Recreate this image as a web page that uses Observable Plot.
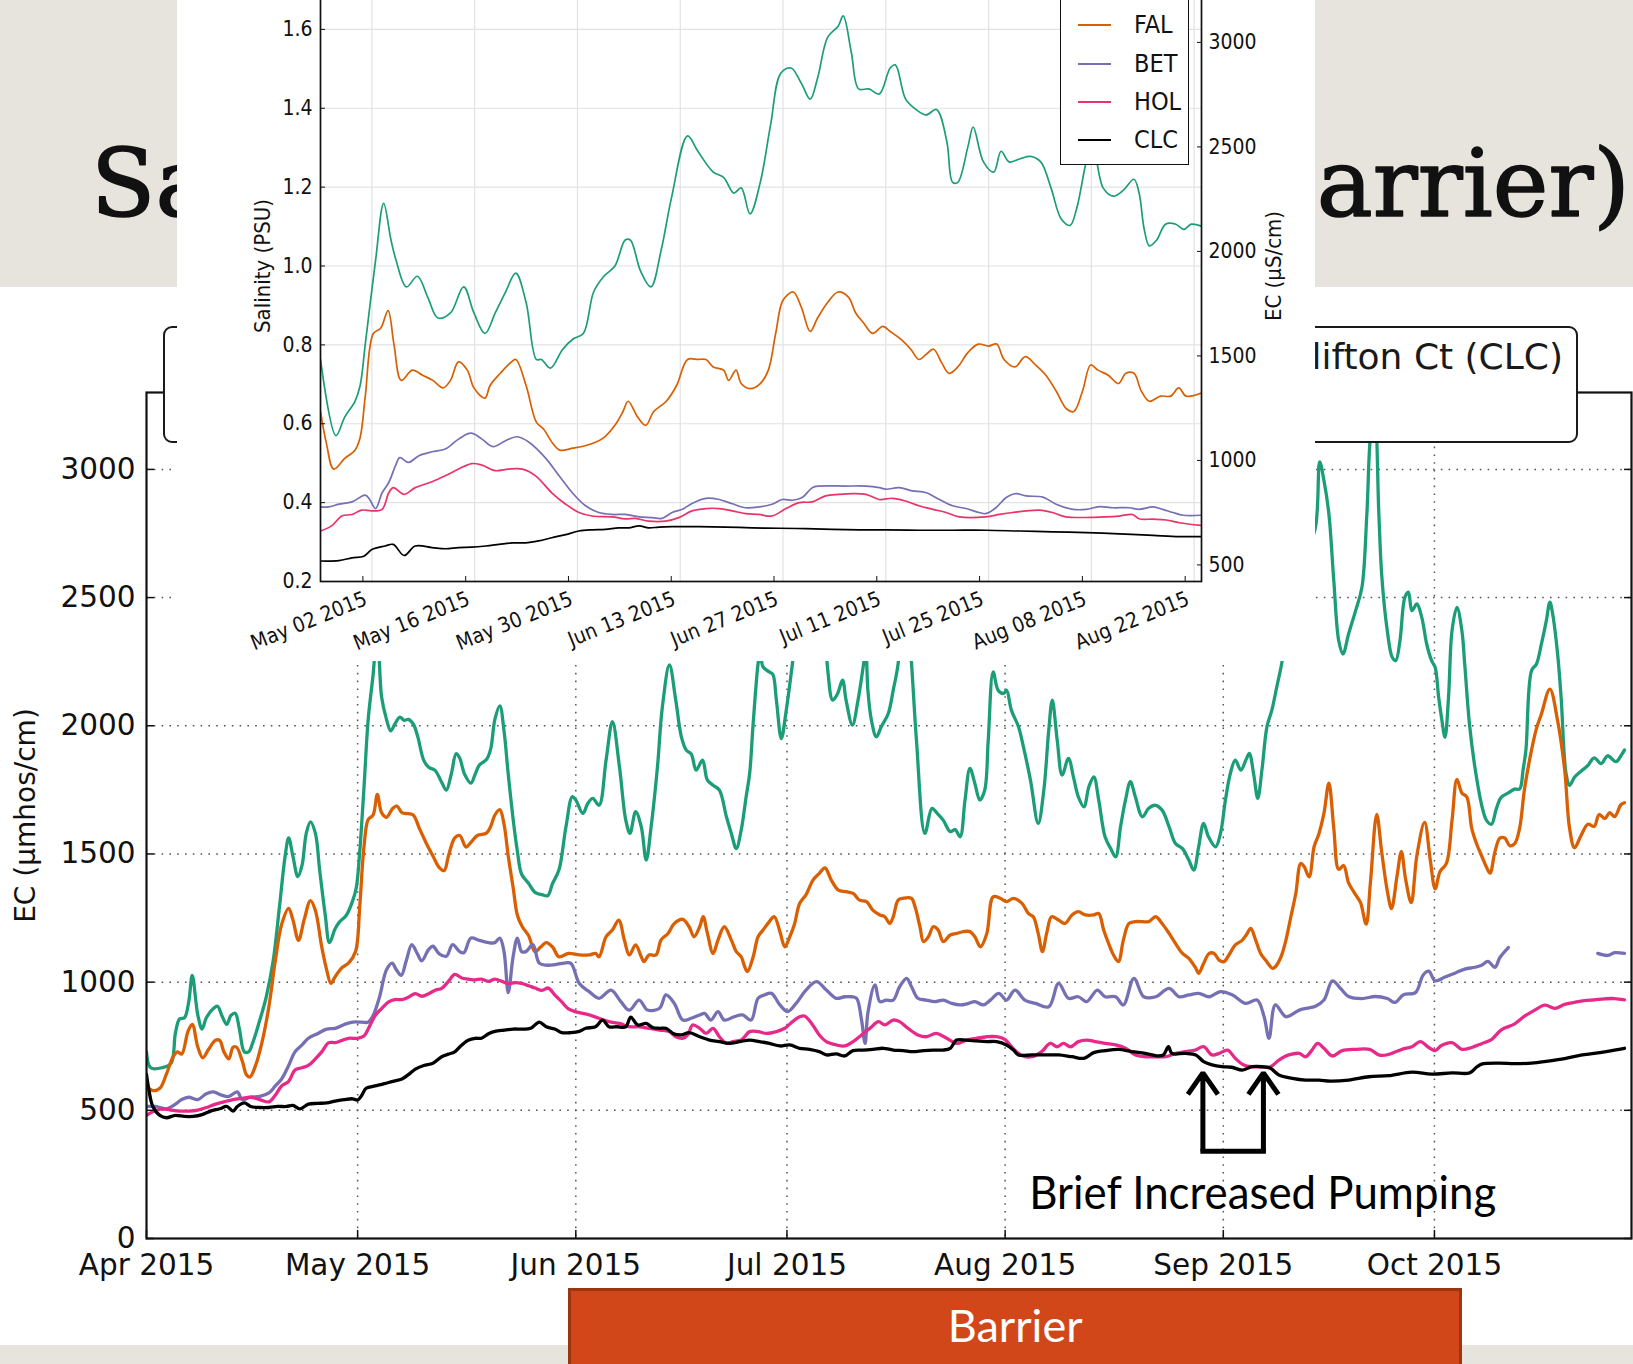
<!DOCTYPE html>
<html>
<head>
<meta charset="utf-8">
<script src="https://cdn.jsdelivr.net/npm/d3@7"></script>
<script src="https://cdn.jsdelivr.net/npm/@observablehq/plot@0.6"></script>
<style>
html, body { margin: 0; padding: 0; background: #fff; }
#page { position: relative; width: 1633px; height: 1364px; overflow: hidden; background: #fff; font-family: "DejaVu Sans", sans-serif; }
.band { position: absolute; left: 0; width: 1633px; background: #e7e3dd; }
#titleSvg { position: absolute; left: 0; top: 0; }
#mainWrap { position: absolute; left: 0; top: 0; }
#legendMain { position: absolute; left: 163px; top: 326px; width: 1415px; height: 117px; box-sizing: border-box; border: 2.5px solid #1a1a1a; border-radius: 9px; background: #fff; }
#legendMain .txt { position: absolute; right: 13px; top: 8px; font-family: "DejaVu Sans", sans-serif; font-size: 36px; line-height: 42px; color: #1a1a1a; white-space: nowrap; }
#legendMain .sw { position: absolute; right: 310px; top: 27px; width: 60px; height: 3px; background: #000; }
#barrier { position: absolute; top: 1288px; height: 90px; box-sizing: border-box; background: #d1471a; border: 3px solid #9c3610; }
#barrier span { position: absolute; left: 0; right: 0; top: 7px; text-align: center; font-family: Lato, "Noto Sans", sans-serif; font-size: 45px; line-height: 54px; color: #fff; }
#inset { position: absolute; left: 177px; top: -60px; width: 1138px; height: 721px; background: #fff; }
#inset svg { position: absolute; left: 0; top: 0; }
#insetLegend { position: absolute; left: 883px; top: 23px; width: 129px; height: 202px; box-sizing: border-box; border: 1.6px solid #111; background: #fff; }
#insetLegend .row { position: absolute; left: 0; width: 125px; height: 38.3px; }
#insetLegend .sw { position: absolute; left: 17px; top: 18px; width: 33px; height: 2px; }
#insetLegend .lab { position: absolute; left: 73px; top: 4px; font-family: "DejaVu Sans Condensed", "DejaVu Sans", sans-serif; font-stretch: condensed; font-size: 25px; line-height: 30px; color: #111; }
</style>
</head>
<body>
<div id="page">
  <div class="band" style="top:0;height:287px"></div>
  <div class="band" style="top:1345px;height:19px"></div>
  <svg id="titleSvg" width="1633" height="287"><text id="titleText" x="91" y="216"
    style="font-family:'DejaVu Serif',serif;font-size:94px;fill:#111;stroke:#111;stroke-width:1.6px;stroke-linejoin:round"></text></svg>
  <div id="mainWrap"></div>
  <div id="legendMain"><div class="sw"></div><div class="txt"></div></div>
  <div id="barrier"><span></span></div>
  <div id="inset"><div id="insetLegend"></div></div>
</div>
<script>
// ---------------- text ----------------
const titleLabel = "Salinity Response (Barrier)";
const mainLegendLabel = "Clifton Ct (CLC)";
const barrierLabel = "Barrier";
const pumpingNote = "Brief Increased Pumping";
const mainYLabel = "EC (μmhos/cm)";
const insetLeftLabel = "Salinity (PSU)";
const insetRightLabel = "EC (μS/cm)";

// ---------------- categories / colours ----------------
const stations = ["JER", "FAL", "BET", "HOL", "CLC"];
const mainColors = ["#1b9e77", "#d95f02", "#7570b3", "#e7298a", "#000000"];
const insetColors = ["#1b9e77", "#d95f02", "#7570b3", "#ea3366", "#000000"];

// ---------------- main chart axes ----------------
const mainStart = "2015-04-01";
const mainEnd = "2015-10-29";
const mainMonthTicks = ["2015-04-01", "2015-05-01", "2015-06-01", "2015-07-01", "2015-08-01", "2015-09-01", "2015-10-01"];
const ecTicks = [0, 500, 1000, 1500, 2000, 2500, 3000];
const ecDomain = [0, 3300];
const barrierStart = "2015-05-31";
const barrierEnd = "2015-10-05";

// main series: [days after Apr 1 2015, EC µmhos/cm]
const mainJER = [[0,728],[0.6,666],[2.2,666],[3.5,684],[4.1,800],[4.7,856],[5.4,861],[6,923],[6.5,1026],[7.3,870],[7.9,817],[8.5,861],[9.5,897],[10.1,906],[10.7,870],[11.4,835],[12,870],[12.6,879],[13.2,817],[13.9,728],[14.5,728],[15.1,764],[16.1,852],[17,941],[18,1083],[18.9,1296],[19.7,1492],[20.2,1563],[20.8,1492],[21.5,1412],[22.1,1456],[22.7,1580],[23.3,1625],[24,1580],[24.6,1438],[25.4,1261],[26,1154],[26.8,1208],[27.4,1234],[28.4,1261],[29.3,1318],[29.8,1367],[30.3,1510],[30.9,1758],[31.5,2025],[32.2,2200],[32.8,2380],[33.4,2113],[34.1,2025],[34.7,1980],[35.3,2007],[36,2034],[36.6,2021],[37.2,2025],[37.9,2007],[38.5,1962],[39.4,1865],[40.1,1838],[41,1826],[42,1776],[42.6,1749],[43.3,1811],[44,1891],[44.5,1874],[45.2,1811],[46.1,1776],[46.7,1811],[47.3,1847],[48.3,1868],[48.9,1909],[49.5,2025],[50.2,2078],[50.8,1980],[51.4,1811],[52.1,1634],[52.7,1510],[53.3,1421],[54.3,1385],[55.2,1350],[56.2,1341],[57,1337],[57.7,1385],[58.6,1437],[59.6,1606],[60.5,1723],[61,1710],[62,1658],[62.7,1697],[63.4,1717],[64.3,1690],[65.3,1866],[66.2,2016],[67.2,1840],[68.1,1632],[68.7,1580],[69.5,1665],[70.3,1606],[71,1476],[71.7,1606],[72.6,1840],[73.3,2074],[74.3,2237],[75.2,2100],[76,1957],[76.7,1905],[77.4,1890],[78.1,1827],[79,1866],[79.7,1788],[80.5,1768],[81.4,1749],[82.4,1645],[83.1,1580],[83.8,1521],[84.5,1593],[85.2,1723],[85.7,1814],[86.2,2009],[86.9,2243],[87.2,2290],[87.6,2230],[88.5,2210],[89,2200],[89.5,2100],[90.2,1950],[90.9,2061],[91.6,2204],[92.1,2320],[93,2700],[94.5,3100],[96,2600],[96.8,2217],[97.5,2100],[98.2,2126],[98.9,2178],[99.4,2100],[100.3,2003],[101.1,2100],[101.9,2243],[102.2,2300],[102.5,2139],[103,2022],[103.7,1957],[104.4,1996],[105.4,2048],[106.1,2139],[106.8,2243],[107.7,2600],[108.7,2243],[109.4,1944],[110.6,1580],[111.6,1678],[112.3,1660],[113.2,1632],[114.2,1587],[114.9,1595],[115.6,1567],[116.3,1710],[117,1834],[117.7,1775],[118.4,1710],[119.1,1749],[119.6,1944],[120.3,2210],[121,2139],[121.8,2126],[122.2,2139],[122.9,2060],[123.9,1996],[124.6,1918],[125.6,1788],[126.7,1619],[127.5,1749],[128.2,1983],[128.7,2100],[129.4,1944],[130.1,1808],[131,1873],[131.7,1801],[132.4,1723],[133.2,1684],[133.9,1762],[134.6,1801],[135.3,1710],[136.2,1567],[137,1521],[137.7,1489],[138.4,1606],[139.1,1710],[139.8,1782],[140.5,1723],[141.5,1645],[142.4,1678],[143.3,1690],[144.3,1671],[145.3,1606],[146.2,1541],[147.2,1521],[148.1,1476],[148.8,1437],[149.5,1528],[150.2,1619],[150.9,1567],[151.9,1528],[152.6,1580],[153.3,1710],[154,1814],[154.7,1866],[155.5,1827],[156.2,1866],[156.7,1892],[157.3,1814],[157.9,1717],[158.5,1830],[159.2,1996],[159.9,2061],[160.6,2152],[161.3,2243],[162.5,2450],[164.5,2650],[166.1,2775],[166.7,3029],[167.3,2957],[168,2827],[168.7,2566],[169.4,2332],[170,2280],[170.8,2358],[171.8,2449],[172.7,2540],[173.4,2827],[174,3152],[174.5,3200],[175.1,2827],[175.5,2592],[176.3,2371],[177,2267],[177.5,2254],[178.1,2332],[178.8,2501],[179.3,2521],[179.8,2449],[180.5,2475],[181.2,2423],[181.9,2319],[182.6,2254],[183.1,2228],[183.6,2111],[184,2033],[184.5,1955],[185,2111],[185.5,2371],[186.2,2462],[186.9,2371],[187.3,2241],[188,2000],[188.8,1829],[189.7,1692],[190.4,1631],[191.1,1616],[191.8,1677],[192.5,1722],[193.5,1738],[194.4,1753],[195.1,1753],[195.6,1829],[196,1906],[196.8,2215],[197.5,2241],[198.2,2319],[198.9,2410],[199.4,2482],[199.8,2436],[200.5,2280],[201,2111],[201.7,1814],[202.2,1768],[202.9,1799],[203.8,1822],[204.8,1845],[205.7,1875],[206.7,1852],[207.6,1883],[208.8,1860],[209.5,1883],[210,1906]];

const mainFAL = [[0,595],[0.9,577],[1.9,586],[2.8,639],[3.8,710],[4.4,728],[5,719],[5.9,808],[6.5,835],[7.3,746],[8,705],[8.8,737],[9.8,773],[10.4,773],[11,728],[11.7,701],[12.3,746],[12.8,746],[13.6,693],[14.2,639],[14.7,630],[15.5,675],[16.4,764],[17.4,906],[18.3,1083],[19.2,1225],[20.2,1288],[20.8,1243],[21.6,1163],[22.4,1243],[23.3,1318],[24,1279],[24.9,1137],[25.6,1048],[26.2,995],[26.8,1021],[27.8,1057],[28.7,1074],[29.7,1119],[30.3,1296],[30.9,1527],[31.5,1634],[32.2,1652],[32.8,1732],[33.4,1661],[34.1,1643],[35,1678],[35.6,1687],[36.3,1661],[37.2,1657],[37.9,1652],[38.8,1598],[39.7,1545],[40.7,1492],[41.6,1447],[42.3,1435],[42.9,1492],[43.8,1563],[44.5,1572],[45.4,1527],[46.1,1545],[47,1572],[48.3,1581],[48.9,1607],[49.5,1652],[50.2,1673],[50.8,1616],[51.4,1492],[52.1,1368],[52.7,1261],[53.4,1216],[54.3,1181],[55.2,1119],[56,1137],[56.8,1154],[57.7,1137],[58.6,1099],[60,1112],[61.5,1106],[62.9,1106],[63.8,1112],[64.3,1099],[65.3,1177],[66.2,1203],[67.1,1242],[67.9,1164],[68.6,1106],[69.5,1145],[70.3,1099],[70.7,1080],[71.4,1106],[72.4,1106],[73.1,1164],[74.1,1190],[75,1229],[76.2,1245],[77.1,1216],[77.8,1177],[78.6,1216],[79.1,1255],[79.7,1190],[80.5,1112],[81.2,1164],[82.1,1216],[83.1,1164],[83.8,1119],[84.5,1099],[85,1060],[85.4,1041],[86.2,1099],[86.9,1177],[87.6,1203],[88.3,1229],[89.2,1255],[90,1197],[90.7,1138],[91.4,1177],[92.1,1229],[92.8,1307],[93.7,1340],[94.7,1398],[95.6,1424],[96.4,1446],[97.3,1398],[98.3,1359],[99.4,1353],[100.4,1346],[101.3,1320],[102.3,1314],[103.2,1281],[104.2,1262],[104.9,1255],[105.6,1229],[106.1,1255],[106.8,1320],[107.5,1327],[108.7,1327],[109.2,1294],[109.9,1216],[110.4,1158],[111.1,1177],[111.8,1216],[112.5,1203],[113.2,1158],[114.2,1184],[115.1,1190],[116.1,1197],[117,1197],[117.7,1177],[118.5,1138],[119.4,1190],[120.3,1333],[121.3,1327],[122.2,1314],[123.2,1327],[124.4,1307],[125.3,1268],[126,1255],[126.7,1190],[127.3,1119],[127.9,1190],[128.6,1255],[129.6,1242],[130.5,1229],[131.5,1262],[132.4,1275],[133.4,1262],[134.6,1262],[135.3,1268],[136,1203],[136.7,1151],[137.4,1106],[138.1,1080],[138.8,1164],[139.6,1229],[140.5,1236],[141.5,1236],[142.4,1236],[143.4,1255],[144.3,1229],[145.3,1190],[146.2,1151],[147.2,1112],[148.1,1093],[149.1,1054],[149.5,1034],[150.2,1073],[151,1112],[151.7,1112],[152.4,1086],[153.1,1080],[153.8,1106],[154.7,1145],[155.7,1164],[156.4,1190],[156.9,1210],[157.6,1164],[158.3,1112],[159,1086],[160,1054],[160.4,1060],[161.2,1099],[161.9,1164],[162.6,1255],[163.3,1346],[164,1463],[164.5,1450],[165.2,1411],[165.9,1528],[166.6,1580],[167.3,1658],[168,1776],[168.7,1600],[169.4,1440],[170.1,1455],[170.8,1387],[171.8,1341],[172.5,1310],[173.3,1226],[173.9,1387],[174.8,1654],[175.5,1509],[176.3,1356],[176.9,1287],[177.7,1417],[178.3,1509],[178.9,1402],[179.7,1310],[180.5,1493],[181.6,1623],[182.4,1478],[183.1,1364],[183.8,1432],[184.7,1463],[185.5,1631],[186.2,1791],[186.9,1738],[187.6,1722],[188.3,1600],[189,1539],[189.7,1493],[190.4,1448],[190.9,1425],[191.6,1509],[192.3,1562],[193,1562],[193.7,1532],[194.4,1540],[195.1,1600],[195.8,1753],[196.8,1906],[197.5,1990],[198.2,2046],[199.4,2143],[200.5,2020],[201.5,1829],[202.2,1600],[202.9,1524],[203.8,1570],[204.8,1616],[205.7,1608],[206.4,1654],[207.2,1638],[207.9,1661],[208.6,1646],[209.5,1692],[210,1700]];

const mainBET = [[0,515],[1.3,515],[2.8,506],[4.1,524],[5,542],[6,551],[7.3,542],[8.5,565],[9.5,572],[10.7,559],[11.7,554],[12.9,572],[13.6,542],[14.8,551],[16.1,554],[17.4,568],[18.3,595],[19.2,622],[20.2,675],[21.1,728],[22.1,755],[23,781],[24.3,799],[25.6,817],[26.8,820],[28.1,835],[29.3,844],[30.6,844],[31.5,844],[32.2,870],[33.1,941],[34.1,1048],[34.9,1074],[35.5,1048],[36.2,1026],[36.9,1083],[37.7,1146],[38.5,1110],[39.1,1083],[40.1,1128],[40.7,1140],[41.6,1110],[42.6,1101],[43.5,1146],[44.5,1119],[45.1,1115],[46.1,1172],[47.3,1163],[48.6,1154],[49.5,1154],[50.2,1172],[50.8,1119],[51.4,959],[52.1,1101],[52.7,1172],[53.3,1119],[53.9,1119],[54.9,1146],[55.8,1074],[56.8,1066],[58.4,1070],[59.3,1074],[60.3,1073],[61.5,995],[62.9,963],[64.3,937],[66,969],[67.4,924],[68.6,891],[70,930],[71.2,891],[72.9,898],[73.8,950],[75,917],[76.2,852],[77.4,859],[78.6,872],[79.3,878],[80.2,852],[81.2,885],[82.1,852],[83.5,865],[84.7,872],[85.9,852],[86.9,937],[87.8,950],[88.8,956],[90,911],[91.1,885],[92.3,917],[93.7,969],[95.2,1002],[96.6,969],[98,937],[99.2,943],[100.2,943],[100.9,937],[101.6,852],[102.1,761],[102.5,880],[103.5,989],[104.2,924],[105.1,930],[106.1,930],[107,982],[108,1015],[108.7,982],[109.6,937],[110.8,930],[112,924],[113.2,930],[114.4,917],[115.6,911],[116.8,917],[117.7,924],[118.9,911],[119.9,930],[121.1,956],[122.2,930],[123.4,969],[124.8,930],[126.3,917],[128.2,904],[129.6,995],[131,937],[132.4,943],[133.6,924],[135.1,969],[136.2,943],[137.7,943],[138.8,911],[140.3,1015],[141.7,943],[143.4,943],[145.3,976],[146.7,943],[148.1,950],[149.5,956],[151,943],[152.6,963],[154.3,950],[156.2,917],[157.8,930],[158.8,865],[159.5,781],[160.4,911],[161.9,865],[163.8,891],[165.2,900],[166.1,906],[167.3,930],[168.5,1005],[169.7,974],[170.8,944],[172.7,936],[174.6,944],[176.3,936],[177.4,921],[178.6,951],[180.3,959],[181.4,1028],[182.2,1043],[183.1,1005],[184.5,1020],[185.9,1035],[187.3,1051],[188.8,1058],[189.7,1066],[190.6,1081],[191.6,1058],[192.3,1096],[193.5,1135],[194,null],[206,null],[206.2,1112],[207.6,1104],[208.6,1115],[210,1112]];

const mainHOL = [[0,480],[0.9,494],[2.2,506],[3.5,501],[4.7,497],[6,497],[7.3,501],[8.5,511],[9.8,524],[11,533],[12.3,542],[13.6,547],[14.8,551],[16.1,542],[17.4,533],[18.3,559],[19.2,595],[20.2,613],[21.1,657],[22.1,666],[23,675],[24,701],[24.9,728],[25.9,764],[26.8,764],[27.8,773],[28.7,781],[30,781],[30.9,790],[31.5,817],[32.5,870],[33.4,897],[34.4,923],[35.3,932],[36.3,932],[37.2,941],[38.2,955],[39.1,945],[40.1,955],[41,968],[42,977],[42.9,1003],[43.8,1030],[44.8,1016],[45.7,1012],[46.7,1009],[47.6,1012],[48.6,1003],[49.5,1012],[50.5,1003],[51.4,995],[52.4,998],[53.3,995],[54.3,986],[55.2,977],[56.2,968],[57.1,977],[58,950],[59,923],[59.9,897],[60.9,885],[62.9,872],[64.3,859],[65.7,846],[67.2,839],[68.6,826],[70,826],[71.4,820],[72.9,813],[74.3,807],[75.2,787],[76.2,781],[76.9,794],[77.6,833],[78.6,820],[79.5,800],[80.5,820],[81.4,787],[82.4,761],[83.3,768],[84.5,774],[85.7,807],[86.9,807],[88.1,800],[89.5,807],[90.7,820],[91.8,846],[92.8,865],[93.5,868],[94.5,839],[95.6,794],[96.6,768],[98,755],[99.2,751],[100.4,768],[101.6,794],[102.8,820],[104,846],[104.9,833],[106.1,852],[107,846],[108.2,820],[109.6,794],[110.8,787],[112.2,800],[113.7,781],[115.1,761],[116.5,774],[117.9,781],[119.4,787],[120.8,787],[122,776],[122.9,748],[123.9,722],[124.8,709],[125.8,709],[127.2,729],[128.4,761],[129.4,748],[130.3,761],[131.3,748],[132.4,768],[133.6,774],[134.8,768],[136.2,761],[137.7,755],[139.1,742],[140.5,716],[141.9,709],[143.4,709],[144.8,709],[146.2,722],[147.6,729],[149,735],[150.2,748],[151.4,716],[152.4,722],[153.6,735],[154.7,703],[155.9,677],[157.1,670],[158.5,670],[159.7,670],[160.9,696],[162.3,716],[163.8,722],[164.7,709],[165.6,735],[166.4,761],[167.3,742],[168.5,712],[169.9,733],[171.8,738],[173.8,738],[175.2,715],[176.5,718],[178.4,738],[179.8,748],[181,768],[182.2,745],[183.1,733],[184,753],[185.5,764],[186.9,738],[188.3,745],[189.7,760],[191.1,776],[192.5,814],[194.4,837],[195.8,867],[197.2,890],[198.7,910],[200.1,898],[201.5,913],[202.9,921],[204.3,928],[205.7,931],[207.2,935],[208.6,936],[210,931]];

const mainCLC = [[0,640],[0.3,586],[0.9,515],[1.9,480],[2.8,471],[4.1,480],[5.4,476],[6.6,476],[7.9,483],[9.1,497],[10.4,506],[11.4,515],[12.3,497],[12.9,515],[13.9,529],[14.8,515],[16.1,511],[17.4,511],[18.6,515],[19.9,515],[20.8,519],[21.8,506],[23,524],[24.3,527],[25.6,529],[26.8,536],[28.1,542],[29.3,545],[30,540],[30.6,559],[31.2,586],[32.5,595],[33.8,604],[35,613],[36.3,622],[37.2,639],[38.2,661],[39.4,675],[40.7,684],[42,710],[42.9,719],[43.8,728],[44.8,755],[45.7,773],[46.7,781],[47.6,781],[48.6,799],[49.5,808],[50.8,813],[52.1,817],[53.3,817],[54.6,820],[55.8,844],[56.8,826],[58,817],[59,803],[60.3,803],[61.5,808],[62.4,820],[63.8,826],[64.8,852],[65.7,826],[66.9,826],[68.1,826],[68.8,863],[69.8,833],[71,839],[71.9,823],[72.9,820],[73.8,820],[74.8,800],[76,794],[77.1,803],[78.6,787],[80,774],[81.4,768],[82.8,761],[84.3,768],[85.7,774],[87.1,768],[88.5,761],[90,751],[91.4,755],[92.8,742],[94.2,738],[95.6,729],[96.6,716],[98,720],[99.2,712],[100.4,733],[101.8,735],[103.2,738],[104.7,742],[106.1,735],[107.5,733],[108.9,729],[110.4,733],[111.8,735],[113.2,735],[114.2,742],[114.7,761],[115.1,774],[116.5,774],[117.9,771],[119.4,768],[120.8,768],[122.2,755],[123.2,735],[123.9,716],[125.8,716],[127.7,716],[129.6,716],[131.5,709],[133.2,703],[134.6,725],[136.2,733],[138.1,738],[140,729],[141.9,722],[143.8,712],[144.5,716],[145.2,748],[145.7,722],[147.6,722],[149.1,716],[150.2,690],[151.4,677],[152.8,670],[154.2,668],[155.7,657],[157.1,670],[158.5,670],[159.7,664],[160.9,638],[162.8,625],[164.7,618],[166.6,618],[168.2,614],[170.8,618],[173.7,631],[176.5,635],[179.8,649],[182.6,641],[185.5,646],[188,646],[189,669],[189.7,680],[192.1,684],[194.4,682],[196.8,684],[199.1,692],[201.5,702],[203.8,715],[205.7,722],[207.6,730],[210,742]];

// annotation: days after Apr 1 and EC values
const pumpDays = [150.1, 158.7];
const pumpArrowFrom = 340;
const pumpArrowTo = 646;
const noteDay = 158.6;
const noteEC = 174;

// ---------------- inset axes ----------------
const insetStart = "2015-04-25";
const insetEnd = "2015-08-23";
const insetTicks = ["2015-05-02", "2015-05-16", "2015-05-30", "2015-06-13", "2015-06-27", "2015-07-11", "2015-07-25", "2015-08-08", "2015-08-22"];
const salTicks = [0.2, 0.4, 0.6, 0.8, 1.0, 1.2, 1.4, 1.6];
const salDomain = [0.2, 1.8];
const insetEcTicks = [500, 1000, 1500, 2000, 2500, 3000];
const ecAxisRefEC = [500, 3000];     // right axis: EC values ...
const ecAxisRefSal = [0.242, 1.567]; // ... aligned with these salinity values

// inset series: [days after Apr 25 2015, salinity PSU]
const insetJER = [[0,0.763],[2.1,0.570],[3.3,0.617],[4.7,0.657],[5.4,0.697],[6.1,0.802],[7.5,1.014],[8.6,1.159],[9.6,1.066],[10.3,1.014],[11.7,0.947],[13.2,0.974],[14.6,0.921],[16,0.868],[17.7,0.881],[19.5,0.947],[20.9,0.881],[22.4,0.829],[23.8,0.881],[25.2,0.934],[26.6,0.982],[28,0.908],[29.4,0.763],[30.1,0.763],[31.3,0.741],[33,0.789],[34.4,0.815],[35.8,0.829],[37.2,0.934],[38.6,0.974],[40.1,1.0],[41.5,1.066],[42.2,1.066],[43.6,0.987],[45,0.947],[46.4,1.04],[47.8,1.172],[50,1.33],[51.4,1.291],[53.5,1.238],[54.9,1.225],[56.3,1.185],[57.3,1.198],[58.5,1.132],[59.9,1.212],[61.3,1.357],[62.7,1.489],[64.1,1.502],[65.5,1.463],[66.7,1.423],[67.7,1.476],[69.1,1.581],[70.5,1.608],[71.2,1.634],[72.3,1.542],[73.3,1.449],[74.7,1.449],[76.1,1.436],[77.6,1.502],[78.3,1.51],[79.7,1.423],[81.1,1.397],[82.5,1.383],[83.9,1.397],[85.3,1.317],[86.1,1.212],[86.8,1.212],[88.2,1.304],[88.9,1.352],[90.3,1.264],[91.7,1.238],[92.7,1.291],[93.8,1.264],[95.3,1.272],[96.7,1.278],[98.1,1.264],[99.5,1.198],[100.9,1.119],[102.1,1.103],[103,1.146],[104.5,1.278],[105.2,1.304],[106.6,1.198],[108,1.177],[109.4,1.193],[110.8,1.22],[111.5,1.185],[112.2,1.093],[112.9,1.051],[113.9,1.066],[115.1,1.106],[116.5,1.106],[117.6,1.093],[118.6,1.106],[120,1.101]];

const insetFAL = [[0,0.631],[0.8,0.551],[1.8,0.485],[3.3,0.512],[4.7,0.533],[5.4,0.565],[6.1,0.67],[7.2,0.829],[8.2,0.842],[9.2,0.887],[10,0.802],[11,0.71],[12.5,0.736],[13.9,0.723],[15.3,0.71],[16.7,0.691],[17.7,0.71],[18.8,0.757],[20,0.736],[20.9,0.691],[22.4,0.665],[23.1,0.697],[24.5,0.728],[25.9,0.755],[26.6,0.763],[28,0.697],[29.4,0.604],[30.4,0.586],[31.6,0.551],[32.6,0.533],[34.4,0.538],[35.8,0.543],[37.2,0.551],[38.6,0.565],[40.1,0.596],[41.2,0.631],[41.9,0.657],[43.2,0.617],[44.3,0.596],[45.4,0.631],[47.1,0.657],[48.5,0.697],[50,0.763],[51.4,0.763],[52.5,0.763],[53.5,0.744],[54.9,0.736],[55.6,0.71],[56.6,0.736],[57.3,0.702],[58.5,0.689],[59.9,0.702],[61,0.736],[62,0.829],[63,0.913],[64.4,0.934],[65.5,0.895],[66.7,0.834],[67.7,0.868],[69.1,0.908],[70.5,0.934],[71.9,0.921],[72.9,0.881],[74,0.855],[75.2,0.829],[76.6,0.847],[77.6,0.834],[79,0.815],[80.4,0.789],[81.5,0.763],[82.5,0.776],[83.5,0.789],[84.6,0.755],[85.6,0.728],[86.8,0.744],[88.2,0.781],[89.6,0.802],[91,0.797],[92.1,0.802],[93.1,0.763],[94.6,0.744],[96,0.77],[97.4,0.749],[98.8,0.723],[100.2,0.683],[101.6,0.638],[102.6,0.631],[103.8,0.683],[104.9,0.749],[105.9,0.736],[107.3,0.723],[108.7,0.702],[109.7,0.728],[110.8,0.728],[111.8,0.683],[112.9,0.657],[114.4,0.67],[115.8,0.67],[116.9,0.691],[117.9,0.67],[120,0.678]];

const insetBET = [[0,0.389],[1.1,0.389],[2.5,0.396],[4.3,0.402],[6.1,0.419],[6.7,0.408],[7.5,0.385],[8.4,0.425],[9.3,0.451],[10.2,0.493],[10.8,0.514],[12,0.502],[13.4,0.519],[15.2,0.529],[17,0.536],[18.8,0.561],[20.5,0.576],[22,0.561],[23.5,0.542],[25.2,0.557],[26.8,0.567],[28.4,0.553],[30.6,0.514],[32.5,0.468],[34.3,0.425],[36.1,0.392],[37.9,0.375],[39.7,0.37],[41.5,0.37],[43.4,0.364],[45.2,0.362],[46.5,0.36],[47.9,0.375],[49.3,0.383],[50.6,0.398],[52.5,0.411],[54.3,0.408],[56.1,0.397],[57.9,0.387],[59.7,0.389],[61.5,0.396],[62.9,0.408],[64.3,0.406],[65.6,0.413],[67,0.438],[67.9,0.442],[71.5,0.442],[74.3,0.442],[76.1,0.438],[77,0.434],[78.8,0.438],[80.6,0.43],[82.5,0.425],[84.3,0.408],[86.1,0.392],[87.9,0.385],[89.7,0.375],[90.6,0.372],[92,0.387],[93.4,0.413],[94.7,0.423],[96.1,0.417],[98.4,0.414],[100.2,0.396],[102.5,0.383],[104.3,0.383],[106.1,0.39],[107.9,0.387],[110.2,0.387],[111.5,0.383],[113.4,0.389],[114.7,0.383],[116.1,0.375],[117.5,0.368],[120,0.368]];

const insetHOL = [[0,0.328],[1.5,0.341],[2.9,0.366],[4.3,0.37],[5.6,0.381],[7,0.379],[8.4,0.383],[9.3,0.425],[9.9,0.438],[11.4,0.421],[12.9,0.438],[15.2,0.453],[17,0.468],[18.8,0.485],[20.6,0.499],[22,0.495],[23.8,0.481],[25.6,0.485],[27.5,0.485],[29.3,0.468],[31.5,0.425],[33.4,0.396],[35.2,0.375],[37,0.366],[39.7,0.364],[41.5,0.359],[42.9,0.36],[44.7,0.353],[47,0.353],[48.8,0.362],[50.6,0.379],[52.5,0.385],[54.3,0.385],[56.1,0.379],[57.9,0.372],[59.7,0.37],[61.5,0.366],[63.4,0.385],[65.2,0.4],[67,0.402],[68.8,0.417],[70.6,0.421],[72.5,0.423],[74.3,0.421],[76.1,0.408],[77.9,0.411],[79.7,0.404],[81.5,0.392],[83.4,0.383],[85.2,0.375],[87,0.364],[90.6,0.364],[92.5,0.37],[94.3,0.375],[96.1,0.379],[97.9,0.381],[99.7,0.375],[101.5,0.364],[107,0.364],[108.8,0.366],[110.6,0.37],[111.5,0.359],[113.4,0.358],[115.2,0.356],[117,0.349],[120,0.342]];

const insetCLC = [[0,0.252],[2.5,0.253],[4.3,0.26],[5.9,0.264],[7,0.281],[8.8,0.29],[9.9,0.294],[11.4,0.266],[12.9,0.29],[15.2,0.286],[17,0.283],[18.8,0.286],[20.6,0.287],[22.5,0.29],[24.3,0.294],[26.1,0.298],[27.9,0.298],[29.7,0.303],[31.5,0.311],[33.4,0.319],[35.2,0.328],[37,0.331],[38.8,0.332],[40.6,0.336],[42,0.336],[43.4,0.341],[44.7,0.336],[46.1,0.338],[47.9,0.339],[51.5,0.339],[55.2,0.338],[58.8,0.336],[62.5,0.335],[66.1,0.334],[69.7,0.332],[73.4,0.331],[77,0.331],[81.5,0.33],[86.1,0.33],[90.6,0.33],[95.2,0.328],[99.7,0.326],[104.3,0.324],[108.8,0.321],[113.4,0.317],[117,0.314],[120,0.314]];

// ---------------- helpers ----------------
const utc = s => new Date(s + "T00:00:00Z");
const atDay = (base, d) => new Date(utc(base).getTime() + d * 864e5);
const rows = (pairs, base) => pairs.map(([d, v]) => ({date: atDay(base, d), value: v}));

const mainSeries = [mainJER, mainFAL, mainBET, mainHOL, mainCLC];
const insetSeries = [insetJER, insetFAL, insetBET, insetHOL, insetCLC];

// ---------------- title ----------------
const titleEl = document.getElementById("titleText");
titleEl.textContent = titleLabel;
(function fitTitle() {
  const target = 1630 - 91;
  const len = titleEl.getComputedTextLength();
  const spaces = (titleLabel.match(/ /g) || []).length;
  if (spaces) titleEl.style.wordSpacing = ((target - len) / spaces) + "px";
})();

// ---------------- main chart ----------------
const gridStyle = {stroke: "#555", strokeOpacity: 1, strokeWidth: 1.5, strokeDasharray: "1.6,6.2"};
const pumpArrows = pumpDays.map(d => ({date: atDay(mainStart, d), from: pumpArrowFrom, to: pumpArrowTo}));
const pumpBracket = pumpDays.map(d => ({date: atDay(mainStart, d), value: pumpArrowFrom}));
const noteRows = [{date: atDay(mainStart, noteDay), value: noteEC, label: pumpingNote}];

const mainPlot = Plot.plot({
  width: 1633, height: 1364,
  marginTop: 392, marginRight: 2, marginBottom: 126, marginLeft: 146,
  style: {background: "transparent", fontFamily: "'DejaVu Sans', sans-serif", fontSize: "29.5px", color: "#111", maxWidth: "none"},
  x: {type: "utc", domain: [utc(mainStart), utc(mainEnd)]},
  y: {domain: ecDomain},
  marks: [
    Plot.gridX(mainMonthTicks.slice(1).map(utc), gridStyle),
    Plot.gridY(ecTicks.slice(1), gridStyle),
    ...mainSeries.map((s, i) => Plot.line(rows(s, mainStart), {x: "date", y: "value", stroke: mainColors[i], strokeWidth: 3.3, curve: "catmull-rom", clip: true})),
    Plot.frame({stroke: "#111", strokeWidth: 2.2}),
    Plot.axisX(mainMonthTicks.map(utc), {tickFormat: d3.utcFormat("%b %Y"), tickSize: -8, tickPadding: 23.5, strokeWidth: 1.5, label: null}),
    Plot.axisY(ecTicks, {tickFormat: d3.format("d"), tickSize: -8, tickPadding: 19, strokeWidth: 1.5, label: null}),
    Plot.axisY(ecTicks, {anchor: "right", tickFormat: () => "", tickSize: -8, strokeWidth: 1.5, label: null}),
    Plot.text([mainYLabel], {frameAnchor: "left", dx: -120, rotate: -90, textAnchor: "middle", fontSize: 28}),
    Plot.line(pumpBracket, {x: "date", y: "value", stroke: "#000", strokeWidth: 5, strokeLinecap: "square"}),
    Plot.arrow(pumpArrows, {x1: "date", x2: "date", y1: "from", y2: "to", stroke: "#000", strokeWidth: 5, headLength: 22, headAngle: 70, strokeLinejoin: "miter", strokeLinecap: "butt"}),
    Plot.text(noteRows, {x: "date", y: "value", text: "label", fontFamily: "Lato, 'Noto Sans', sans-serif", fontSize: 46, lineAnchor: "middle", fill: "#000"})
  ]
});
document.getElementById("mainWrap").appendChild(mainPlot);
mainPlot.querySelectorAll("text").forEach(t => {
  if (t.textContent === pumpingNote) { t.setAttribute("textLength", 467); t.setAttribute("lengthAdjust", "spacingAndGlyphs"); }
});

// main legend box
document.querySelector("#legendMain .txt").textContent = mainLegendLabel;

// barrier box from the main x scale
const xs = mainPlot.scale("x");
const bx0 = xs.apply(utc(barrierStart)), bx1 = xs.apply(utc(barrierEnd));
const barrierEl = document.getElementById("barrier");
barrierEl.style.left = bx0 + "px";
barrierEl.style.width = (bx1 - bx0) + "px";
barrierEl.querySelector("span").textContent = barrierLabel;

// ---------------- inset chart ----------------
const toSal = d3.scaleLinear().domain(ecAxisRefEC).range(ecAxisRefSal);
const insetGrid = {stroke: "#e2e2e2", strokeOpacity: 1, strokeWidth: 1.2};
const insetPlot = Plot.plot({
  width: 1138, height: 721,
  marginTop: 10, marginRight: 114, marginBottom: 80, marginLeft: 143,
  style: {background: "#fff", fontFamily: "'DejaVu Sans Condensed', 'DejaVu Sans', sans-serif", fontStretch: "condensed", fontSize: "21px", color: "#111", overflow: "visible", maxWidth: "none"},
  x: {type: "utc", domain: [utc(insetStart), utc(insetEnd)]},
  y: {domain: salDomain},
  marks: [
    Plot.gridX(insetTicks.map(utc), insetGrid),
    Plot.gridY(salTicks, insetGrid),
    ...insetSeries.map((s, i) => Plot.line(rows(s, insetStart), {x: "date", y: "value", stroke: insetColors[i], strokeWidth: 1.7, curve: "catmull-rom", clip: true})),
    Plot.frame({stroke: "#111", strokeWidth: 1.7}),
    Plot.axisX(insetTicks.map(utc), {tickFormat: d3.utcFormat("%b %d %Y"), tickRotate: -22, textAnchor: "end", lineAnchor: "top", tickSize: -5, tickPadding: 14, dx: -9, label: null}),
    Plot.axisY(salTicks, {tickFormat: d3.format(".1f"), tickSize: -5, tickPadding: 13, label: null}),
    Plot.axisY(insetEcTicks.map(v => toSal(v)), {anchor: "right", tickFormat: s => d3.format("d")(Math.round(toSal.invert(s))), tickSize: -5, tickPadding: 12, label: null}),
    Plot.text([insetLeftLabel], {frameAnchor: "left", dx: -58, rotate: -90, textAnchor: "middle", fontFamily: "'DejaVu Sans', sans-serif", fontSize: 22}),
    Plot.text([insetRightLabel], {frameAnchor: "right", dx: 72, rotate: -90, textAnchor: "middle", fontFamily: "'DejaVu Sans', sans-serif", fontSize: 22})
  ]
});
const insetEl = document.getElementById("inset");
insetEl.insertBefore(insetPlot, insetEl.firstChild);

// inset legend
const leg = document.getElementById("insetLegend");
stations.forEach((name, i) => {
  const r = document.createElement("div");
  r.className = "row";
  r.style.top = (4 + i * 38.3) + "px";
  const sw = document.createElement("div");
  sw.className = "sw"; sw.style.background = insetColors[i];
  const lb = document.createElement("div");
  lb.className = "lab"; lb.textContent = name;
  r.appendChild(sw); r.appendChild(lb);
  leg.appendChild(r);
});
</script>
</body>
</html>
